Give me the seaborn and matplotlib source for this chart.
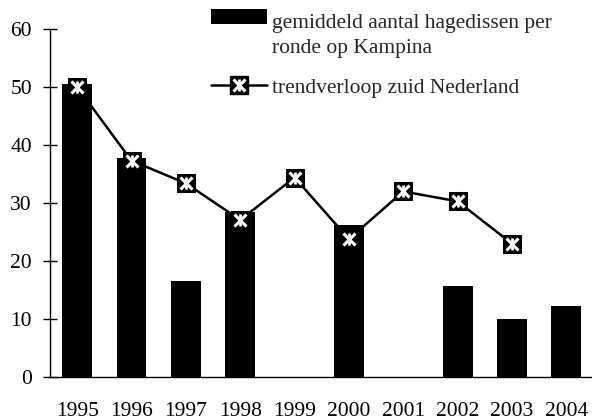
import numpy as np
import pandas as pd
import matplotlib
matplotlib.use("Agg")
import matplotlib.pyplot as plt
import seaborn as sns
from matplotlib.lines import Line2D
from matplotlib.patches import Patch, Rectangle
from matplotlib.legend_handler import HandlerTuple, HandlerPatch

years = ["1995", "1996", "1997", "1998", "1999", "2000", "2001", "2002", "2003", "2004"]
kampina = [50.5, 37.8, 16.5, 28.5, np.nan, 26.2, np.nan, 15.7, 10.0, 12.3]
trend_zuid = [50.0, 37.3, 33.4, 27.1, 34.4, 23.8, 32.0, 30.3, 23.0, np.nan]
yticks = [0, 10, 20, 30, 40, 50, 60]

label_bar = "gemiddeld aantal hagedissen per\nronde op Kampina"
label_line = "trendverloop zuid Nederland"

sns.set_theme(style="white")
plt.rcParams["font.family"] = ["Liberation Serif", "DejaVu Serif"]

fs = 15.5
fig = plt.figure(figsize=(5.92, 4.2), dpi=100)
ax = fig.add_axes([0.0845, 0.102, 0.918, 0.829])

df = pd.DataFrame({"jaar": years, "kampina": kampina})
sns.barplot(data=df, x="jaar", y="kampina", order=years, color="black",
            width=0.55, saturation=1, edgecolor="none", ax=ax)

pos = np.arange(len(years))
tr = pd.DataFrame({"pos": pos, "trend": trend_zuid}).dropna()
sns.lineplot(data=tr, x="pos", y="trend", color="black", linewidth=1.8,
             marker="s", markersize=13.5, markeredgecolor="black",
             markerfacecolor="black", ax=ax)
# white asterisk inside the square markers
ax.plot(tr["pos"], tr["trend"], ls="none", marker="x", markersize=8,
        mew=2.2, color="white", zorder=5)
ax.plot(tr["pos"], tr["trend"], ls="none", marker="|", markersize=9,
        mew=2.0, color="white", zorder=5)

ax.set_xlim(-0.5, 9.5)
ax.set_ylim(0, 60)
ax.set_yticks(yticks)
ax.set_xlabel("")
ax.set_ylabel("")
for s in ["top", "right"]:
    ax.spines[s].set_visible(False)
for s in ["left", "bottom"]:
    ax.spines[s].set_color("black")
    ax.spines[s].set_linewidth(1.0)

ax.set_xticks(pos)
ax.set_xticklabels(years)
ax.set_xticks(np.arange(-0.5, 10, 1), minor=True)
ax.tick_params(axis="x", which="major", length=0, pad=18, labelsize=fs, colors="black")
ax.tick_params(axis="x", which="minor", direction="inout", length=9, width=1, color="black")
ax.tick_params(axis="y", direction="inout", length=10, width=1, pad=8,
               labelsize=fs, colors="black", left=True)


def top_patch(legend, orig_handle, xdescent, ydescent, width, height, fontsize):
    # put the bar swatch next to the first line of the two-line label
    return Rectangle((-xdescent, -ydescent + 0.88 * fontsize), width, height)


h_bar = Patch(facecolor="black", edgecolor="none")
h_line = (Line2D([], [], color="black", lw=1.8, marker="s", markersize=13.5,
                 markerfacecolor="black", markeredgecolor="black"),
          Line2D([], [], ls="none", marker="x", markersize=8, mew=2.2, color="white"),
          Line2D([], [], ls="none", marker="|", markersize=9, mew=2.0, color="white"))
leg = fig.legend([h_bar, h_line], [label_bar, label_line], loc="upper left",
                 bbox_to_anchor=(0.327, 1.008), frameon=False, fontsize=fs,
                 handlelength=2.6, handleheight=0.7, handletextpad=0.25,
                 labelspacing=0.9, borderpad=0.3, numpoints=1,
                 handler_map={tuple: HandlerTuple(ndivide=1, pad=0),
                              Patch: HandlerPatch(patch_func=top_patch)})
leg.get_texts()[0].set_linespacing(1.45)

fig.savefig("out.png", dpi=100)
